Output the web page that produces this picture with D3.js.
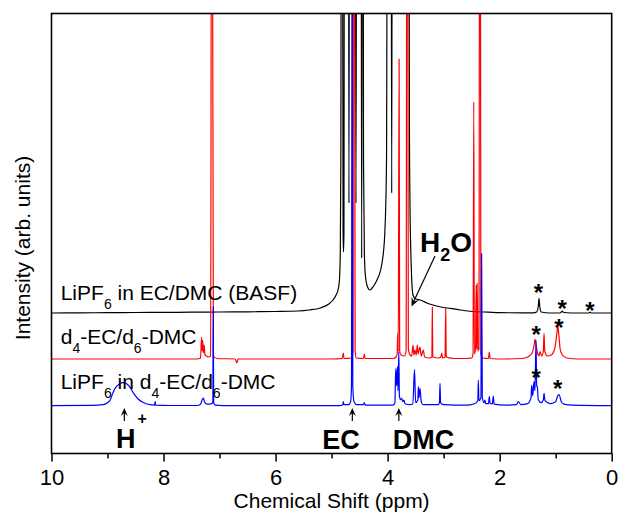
<!DOCTYPE html>
<html><head><meta charset="utf-8">
<script src="https://cdn.jsdelivr.net/npm/d3@7"></script>
<style>body{margin:0;background:#fff} svg{display:block} text{font-family:Arial,"Liberation Sans",sans-serif;fill:#000}</style>
</head><body><svg id="c" width="619" height="521"></svg>
<script>
// ---- data ----
const xTicks = [10, 8, 6, 4, 2, 0];
const xMinorTicks = [9, 7, 5, 3, 1];
const xTitle = "Chemical Shift (ppm)";
const yTitle = "Intensity (arb. units)";
const traceColors = ["#000000", "#ff0000", "#0000ff"];
const traceOffsets = [140.5, 94.5, 47.8]; // baseline offsets, arb. units

// [ppm, intensity above own baseline]
const blackSpectrum = [
  [10,0],[9.5,0.2],[9,0.3],[8.5,0.5],[8,0.6],[7.5,0.8],[7,1],[6.5,1.2],[6,1.5],[5.6,2],[5.4,3],[5.2,5],[5.05,9],
  [4.975,13],[4.92,18],[4.886,23],[4.86,33],[4.845,60],[4.835,150],[4.825,600],[4.81,600],[4.795,80],[4.787,61],
  [4.78,80],[4.77,600],[4.70,600],[4.69,110],[4.68,600],[4.58,600],[4.565,110],[4.55,600],[4.475,600],[4.463,55],
  [4.45,600],[4.44,600],[4.43,150],[4.415,60],[4.40,40],[4.37,28],[4.315,23],[4.25,27],[4.19,33],[4.1,50],
  [4.05,80],[4.02,150],[4.0,600],[3.94,600],[3.927,120],[3.915,600],[3.625,600],[3.61,173],[3.59,70],[3.547,18],
  [3.5,14],[3.42,13],[3.3,10],[3.19,8],[3.0,5.5],[2.886,4.7],[2.7,3],[2.476,1.5],[2.2,0.8],[2.0,0.3],[1.6,0.2],
  [1.4,0.2],[1.34,1],[1.31,7],[1.298,14.7],[1.285,7],[1.26,1],[1.1,0],[0.92,0],[0.9,1],[0.882,2],[0.86,0.5],
  [0.6,0],[0.41,0],[0.387,0.8],[0.36,0],[0,0]
];
const redSpectrum = [
  [10,0],[8,0],[7.4,0],[7.34,1],[7.32,22],[7.31,8],[7.30,18.5],[7.29,6],[7.275,14],[7.26,4],[7.23,3],[7.2,2],
  [7.16,3],[7.142,600],[7.132,600],[7.11,3],[7.05,0.5],[6.72,0],[6.69,-4],[6.67,0],[5,0],[4.81,0.5],[4.79,6],
  [4.78,0.5],[4.64,1],[4.62,8],[4.605,600],[4.595,600],[4.58,8],[4.56,1],[4.43,0.5],[4.416,5],[4.40,0.5],
  [3.9,0.5],[3.85,2],[3.83,5],[3.82,26],[3.81,8],[3.795,300],[3.785,8],[3.76,4],[3.7,3],[3.67,8],[3.655,600],
  [3.645,600],[3.63,10],[3.6,4],[3.57,3],[3.547,14],[3.53,4],[3.511,9],[3.49,4],[3.47,14],[3.455,5],[3.422,12],
  [3.4,3],[3.363,9],[3.34,2],[3.25,1],[3.21,2],[3.202,52],[3.194,2],[3.1,1],[3.05,2],[3.035,6],[3.02,1],[2.975,2],
  [2.963,50.7],[2.955,2],[2.8,0.5],[2.6,0.5],[2.5,1],[2.475,5],[2.462,257],[2.452,5],[2.43,10],[2.42,74],[2.41,10],
  [2.40,76],[2.39,8],[2.37,10],[2.356,600],[2.346,600],[2.335,5],[2.3,1],[2.2,0.5],[2.185,7],[2.17,0.5],[1.9,0],
  [1.6,0.5],[1.5,2],[1.42,6],[1.385,14],[1.369,19.7],[1.35,14],[1.32,5],[1.3,3],[1.28,7.3],[1.25,3],[1.22,8],
  [1.208,25.7],[1.195,8],[1.15,3],[1.08,4],[1.02,10],[0.98,25],[0.964,34],[0.945,25],[0.92,10],[0.88,4],[0.8,1],
  [0.6,0],[0,0]
];
const blueSpectrum = [
  [10,0],[9.3,0.3],[9.2,0.5],[9.08,1],[9.0,3],[8.95,6],[8.91,12],[8.85,18.5],[8.78,22],[8.72,23],[8.66,22],
  [8.6,18.5],[8.53,12],[8.45,6.5],[8.35,3],[8.24,1],[8.16,0.6],[8.15,4],[8.14,0.5],[7.9,0.2],[7.4,0.2],[7.34,1.5],
  [7.31,6],[7.29,7.7],[7.27,4],[7.24,2],[7.2,1.5],[7.15,2],[7.12,3],[7.113,99],[7.105,3],[7.08,0.5],[6.8,0],
  [4.85,0],[4.8,1],[4.79,4],[4.78,1],[4.7,1],[4.66,4],[4.645,20],[4.632,600],[4.622,20],[4.6,4],[4.55,1],[4.43,1],
  [4.416,3],[4.40,0.5],[3.9,0.5],[3.87,3],[3.855,37],[3.84,20],[3.825,39],[3.815,15],[3.8,54],[3.79,10],[3.77,6],
  [3.749,7.4],[3.73,4],[3.708,5.7],[3.69,2],[3.6,1],[3.55,2],[3.52,36],[3.5,3],[3.46,6],[3.452,19],[3.44,8],
  [3.422,17.4],[3.40,4],[3.37,1],[3.1,1],[3.075,3],[3.065,22.4],[3.055,3],[3.0,1],[2.6,0.5],[2.45,2],[2.39,5],
  [2.381,25.7],[2.37,5],[2.335,8],[2.322,152],[2.31,8],[2.28,3],[2.262,5.7],[2.25,2],[2.2,2],[2.185,9],[2.17,2],
  [2.13,2],[2.114,9.7],[2.1,1.5],[1.9,0.5],[1.7,1],[1.667,4],[1.62,1],[1.5,2],[1.44,8],[1.428,20.7],[1.41,10],
  [1.387,24],[1.37,15],[1.351,65.7],[1.34,20],[1.328,19],[1.31,6],[1.26,3],[1.22,6],[1.208,12.4],[1.19,5],
  [1.1,2],[1.0,4],[0.97,9],[0.95,11],[0.935,10.7],[0.9,4],[0.85,1.5],[0.7,0.5],[0,0]
];
const spectra = [blackSpectrum, redSpectrum, blueSpectrum];

// star marks [ppm, intensity above trace baseline, trace index]
const stars = [[1.31,24.7,0],[0.882,9,0],[0.387,7,0],[1.35,29,1],[0.94,35.7,1],[1.35,32.7,2],[0.964,21.4,2]];
// peak annotations with arrows [label, ppm]
const arrowLabels = [["H","+",8.70],["EC","",4.63],["DMC","",3.80]];

// ---- layout ----
const svg = d3.select("#c");
const M = {l: 51.5, r: 611.7, t: 13.5, b: 453.5};
const x = d3.scaleLinear().domain([10, 0]).range([M.l, M.r]);
const y = d3.scaleLinear().domain([0, 440]).range([M.b, M.t]);

svg.append("defs").append("clipPath").attr("id","clip")
  .append("rect").attr("x",M.l).attr("y",M.t).attr("width",M.r-M.l).attr("height",M.b-M.t);

const g = svg.append("g").attr("clip-path","url(#clip)");
spectra.forEach((s, i) => {
  const line = d3.line().x(d => x(d[0])).y(d => y(d[1] + traceOffsets[i])).curve(d3.curveMonotoneX);
  g.append("path").datum(s).attr("d", line).attr("fill","none")
    .attr("stroke", traceColors[i]).attr("stroke-width", 1.2).attr("stroke-linejoin","round");
});

// frame
svg.append("rect").attr("x",M.l).attr("y",M.t).attr("width",M.r-M.l).attr("height",M.b-M.t)
  .attr("fill","none").attr("stroke","#000").attr("stroke-width",1.6);

// x axis
const ax = svg.append("g").attr("transform",`translate(0,${M.b})`)
  .call(d3.axisBottom(x).tickValues(xTicks).tickSize(8).tickPadding(8).tickFormat(d3.format("d")));
ax.select(".domain").remove();
ax.selectAll("line").attr("stroke-width",1.5);
ax.selectAll("text").attr("font-size",22).attr("font-family","Arial, 'Liberation Sans', sans-serif");
const axm = svg.append("g").attr("transform",`translate(0,${M.b})`)
  .call(d3.axisBottom(x).tickValues(xMinorTicks).tickSize(5).tickFormat(""));
axm.select(".domain").remove();
axm.selectAll("line").attr("stroke-width",1.5);

svg.append("text").attr("x",(M.l+M.r)/2).attr("y",508).attr("text-anchor","middle")
  .attr("font-size",21).text(xTitle);
svg.append("text").attr("transform","translate(30,248) rotate(-90)").attr("text-anchor","middle")
  .attr("font-size",21).text(yTitle);

// trace labels
function label(parts, xx, yy) {
  const t = svg.append("text").attr("x",xx).attr("y",yy).attr("font-size",21);
  parts.forEach(p => {
    if (p[1]) t.append("tspan").attr("font-size",14).attr("dy",9).text(p[0]);
    else t.append("tspan").attr("dy", p[2] || 0).text(p[0]);
  });
}
label([["LiPF",0],["6",1],[" in EC/DMC (BASF)",0,-9]], 60.7, 300);
label([["d",0],["4",1],["-EC/d",0,-9],["6",1],["-DMC",0,-9]], 60.7, 343.5);
label([["LiPF",0],["6",1],[" in d",0,-9],["4",1],["-EC/d",0,-9],["6",1],["-DMC",0,-9]], 60.7, 388.5);

// stars
stars.forEach(s => {
  svg.append("text").attr("x",x(s[0])).attr("y",y(s[1]+traceOffsets[s[2]])+13)
    .attr("text-anchor","middle").attr("font-size",24).attr("font-weight","bold").text("*");
});

// arrow labels
arrowLabels.forEach(a => {
  const cx = x(a[2]);
  svg.append("line").attr("x1",cx).attr("x2",cx).attr("y1",421).attr("y2",410).attr("stroke","#000").attr("stroke-width",1.2);
  svg.append("path").attr("d",`M${cx},${408}L${cx-3.5},${416}L${cx},${413}L${cx+3.5},${416}Z`).attr("fill","#000");
});
const lb = svg.append("g").attr("font-weight","bold").attr("font-size",27);
lb.append("text").attr("x",116).attr("y",448).text("H");
lb.append("text").attr("x",137.5).attr("y",424).attr("font-size",16).text("+");
lb.append("text").attr("x",341).attr("y",449).attr("text-anchor","middle").text("EC");
lb.append("text").attr("x",423.5).attr("y",449).attr("text-anchor","middle").text("DMC");
const h2o = lb.append("text").attr("x",420).attr("y",251.7).attr("font-size",28);
h2o.append("tspan").text("H");
h2o.append("tspan").attr("font-size",18).attr("dy",9).text("2");
h2o.append("tspan").attr("dy",-9).text("O");
// H2O arrow
svg.append("line").attr("x1",435).attr("y1",256).attr("x2",413).attr("y2",303).attr("stroke","#000").attr("stroke-width",1.2);
{
  const ang = Math.atan2(303-256, 413-435);
  const tip = [411.5, 306.5], L = 9, W = 4;
  const bx = tip[0]-L*Math.cos(ang), by = tip[1]-L*Math.sin(ang);
  const px = -Math.sin(ang)*W, py = Math.cos(ang)*W;
  const nx = tip[0]-0.6*L*Math.cos(ang), ny = tip[1]-0.6*L*Math.sin(ang);
  svg.append("path").attr("d",`M${tip}L${bx+px},${by+py}L${nx},${ny}L${bx-px},${by-py}Z`).attr("fill","#000");
}
</script></body></html>
